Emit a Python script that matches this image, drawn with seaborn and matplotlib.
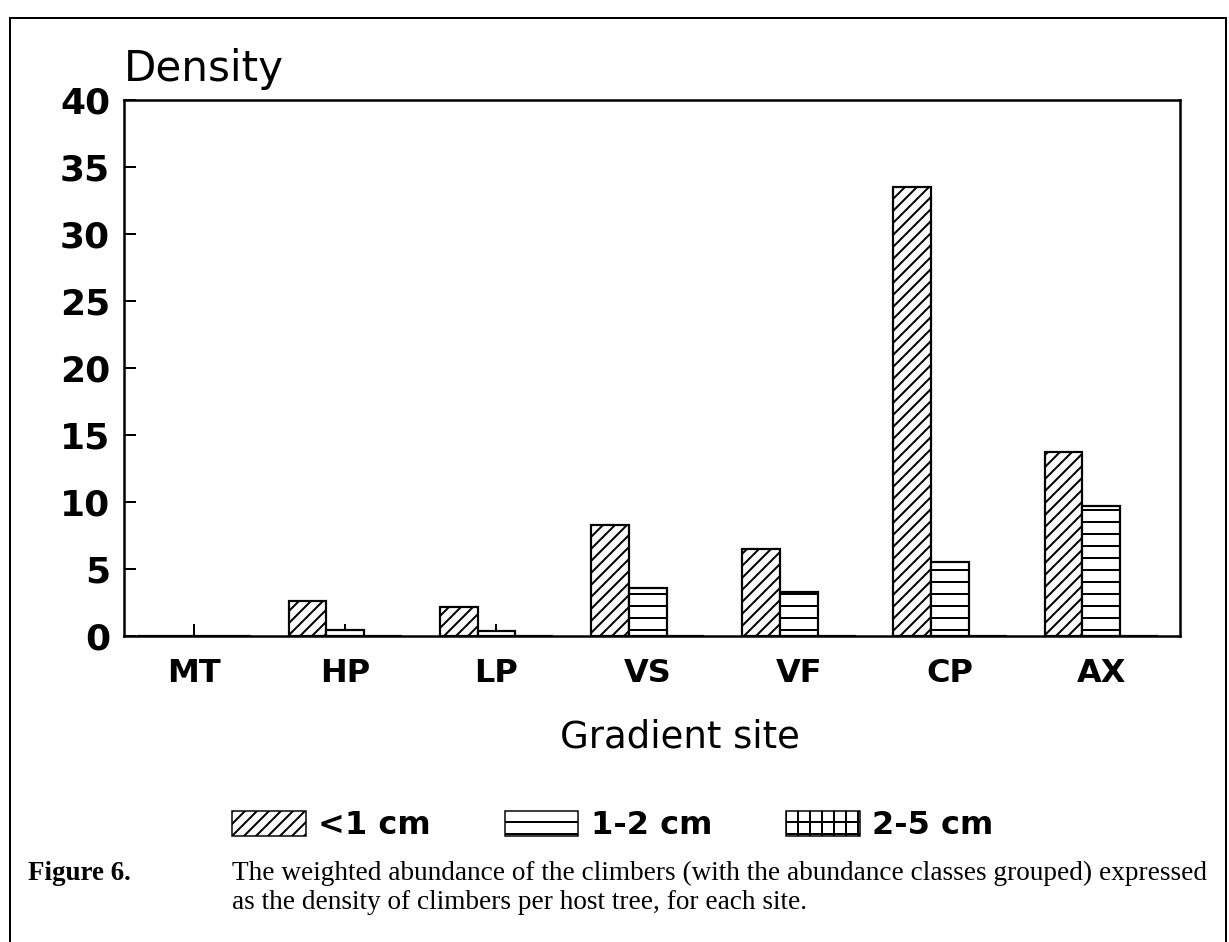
import matplotlib
matplotlib.use('Agg')
import matplotlib.pyplot as plt
import matplotlib.patches as mpatches
import pandas as pd
import seaborn as sns

# 데이터
sites = ['MT', 'HP', 'LP', 'VS', 'VF', 'CP', 'AX']
size_classes = ['<1 cm', '1-2 cm', '2-5 cm']
dens_lt1 = [0.0, 2.6, 2.2, 8.3, 6.5, 33.5, 13.7]
dens_1to2 = [0.0, 0.45, 0.35, 3.6, 3.3, 5.5, 9.7]
dens_2to5 = [0.0, 0.0, 0.0, 0.0, 0.0, 0.0, 0.0]
yticks = [0, 5, 10, 15, 20, 25, 30, 35, 40]
hatches = ['//', '-', '+']

caption_head = 'Figure 6.'
caption_lines = ['The weighted abundance of the climbers (with the abundance classes grouped) expressed',
                 'as the density of climbers per host tree, for each site.']

df = pd.concat([
    pd.DataFrame({'site': sites, 'density': dens_lt1, 'size': size_classes[0]}),
    pd.DataFrame({'site': sites, 'density': dens_1to2, 'size': size_classes[1]}),
    pd.DataFrame({'site': sites, 'density': dens_2to5, 'size': size_classes[2]}),
], ignore_index=True)

sns.set_style('white')
plt.rcParams['font.family'] = ['DejaVu Sans']
plt.rcParams['text.color'] = 'black'
plt.rcParams['xtick.color'] = 'black'
plt.rcParams['ytick.color'] = 'black'
plt.rcParams['hatch.linewidth'] = 2.0
plt.rcParams['hatch.color'] = 'black'

W, H = 1229, 942
fig = plt.figure(figsize=(W / 72, H / 72), dpi=72)
ax = fig.add_axes([124 / W, 1 - 636 / H, (1180 - 124) / W, (636 - 100) / H])

sns.barplot(data=df, x='site', y='density', hue='size', hue_order=size_classes,
            palette=['white'] * 3, saturation=1, edgecolor='black', linewidth=2.2,
            width=0.75, errorbar=None, legend=False, ax=ax)

for container, h in zip(ax.containers, hatches):
    for bar in container:
        bar.set_hatch(h)

ax.set_xlim(-0.463, 6.52)
ax.set_ylim(0, 40)
ax.set_yticks(yticks)
ax.set_yticklabels([str(v) for v in yticks], fontsize=36, fontweight='bold')
ax.set_xticks(range(len(sites)))
ax.set_xticklabels(sites, fontsize=32, fontweight='bold')
ax.tick_params(axis='y', left=True, direction='in', length=12, width=2, pad=14)
ax.tick_params(axis='x', bottom=True, direction='in', length=12, width=2, pad=22)
ax.set_xlabel('')
ax.set_ylabel('')
for sp in ax.spines.values():
    sp.set_linewidth(2.5)
    sp.set_color('black')

ax.text(0, 1 + 19 / 536, 'Density', transform=ax.transAxes, fontsize=42,
        ha='left', va='baseline')
fig.text(680 / W, 1 - 748 / H, 'Gradient site', fontsize=37, ha='center', va='baseline')

handles = [mpatches.Patch(facecolor='white', edgecolor='black', hatch=h, linewidth=1.5)
           for h in hatches]
fig.legend(handles, size_classes, loc='center left', bbox_to_anchor=(232 / W, 1 - 826 / H),
           ncol=3, frameon=False, prop={'size': 32, 'weight': 'bold'},
           handlelength=2.3, handleheight=0.85, handletextpad=0.4, columnspacing=2.3,
           borderpad=0, borderaxespad=0)

fig.text(28 / W, 1 - 880 / H, caption_head, fontsize=27, fontweight='bold',
         family=['Liberation Serif'], ha='left', va='baseline')
for i, line in enumerate(caption_lines):
    fig.text(232 / W, 1 - (880 + 29 * i) / H, line, fontsize=27.3,
             family=['Liberation Serif'], ha='left', va='baseline')

# 바깥 테두리
fig.add_artist(mpatches.Rectangle((10 / W, -0.02), (1226 - 10) / W, 1 + 0.02 - 18 / H,
                                  transform=fig.transFigure, fill=False,
                                  edgecolor='black', linewidth=2))

fig.savefig('out.png', dpi=72)
